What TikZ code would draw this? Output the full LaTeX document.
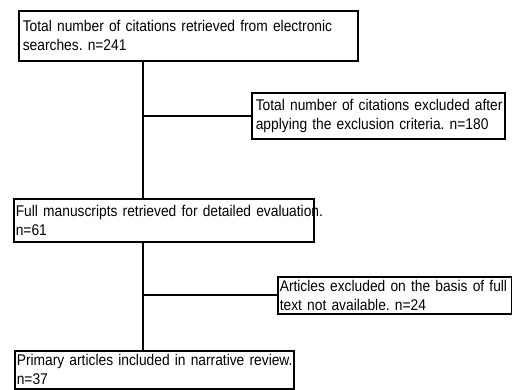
\documentclass[tikz,border=0pt]{standalone}
\usepackage{fontspec}
\usepackage{tikz}
\usetikzlibrary{positioning}
\newfontfamily\narrowfont[FakeStretch=0.89]{Liberation Sans}
\frenchspacing

\tikzset{
	box/.style={draw, line width=1.6pt, anchor=north west, align=left,
		inner xsep=4pt, inner ysep=1pt,
		font=\narrowfont\fontsize{15.5}{19}\selectfont},
	link/.style={line width=1.6pt}
}

\begin{document}
\begin{tikzpicture}[x=1pt, y=-1pt]
		
		\useasboundingbox (0,0) rectangle (512,390);
		
		%trunk
		\coordinate (trunk) at (143,0);
		
		%b1
		\node[box, text width=331pt, minimum height=50pt] (b1) at (18,10)
			{\mbox{Total number of citations retrieved from electronic}\\searches. n=241};
		%b2
		\node[box, text width=245pt, minimum height=46pt] (b2) at (251,92)
			{\mbox{Total number of citations excluded after}\\\mbox{applying the exclusion criteria. n=180}};
		%b3
		\node[box, text width=296pt, minimum height=43pt, inner xsep=2pt] (b3) at (13,198)
			{\mbox{Full manuscripts retrieved for detailed evaluation.}\\n=61};
		%b4
		\node[box, text width=230pt, minimum height=37pt, inner xsep=2pt] (b4) at (277,276)
			{\mbox{Articles excluded on the basis of full}\\text not available. n=24};
		%b5
		\node[box, text width=275pt, minimum height=38pt, inner xsep=2pt] (b5) at (14,350)
			{\mbox{Primary articles included in narrative review.}\\n=37};
		
		% trunk lines
		\draw[link] (b1.south -| trunk) -- (b3.north -| trunk);
		\draw[link] (b3.south -| trunk) -- (b5.north -| trunk);
		
		% excluded
		\draw[link] (b2.west -| trunk) -- (b2.west);
		\draw[link] (b4.west -| trunk) -- (b4.west);
		
\end{tikzpicture}
\end{document}
